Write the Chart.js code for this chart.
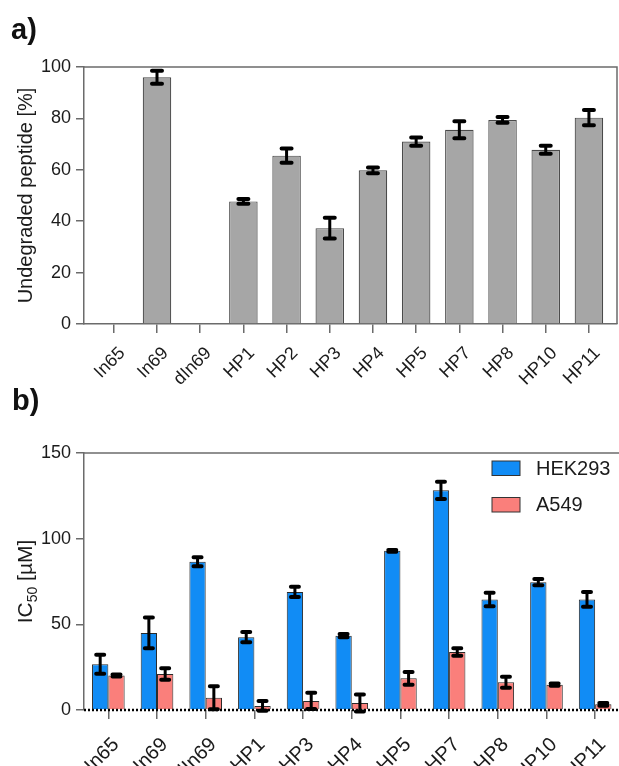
<!DOCTYPE html>
<html>
<head>
<meta charset="utf-8">
<script src="https://cdn.jsdelivr.net/npm/chart.js@4.4.1/dist/chart.umd.min.js"></script>
<style>
  body { margin: 0; background: #fff; width: 619px; height: 766px; position: relative; overflow: hidden; font-family: 'Liberation Sans', Arial, sans-serif; }
  .panel { position: absolute; left: 0; width: 619px; }
  .tag { position: absolute; font-weight: bold; font-size: 29px; color: #111; line-height: 1; z-index: 2; }
</style>
</head>
<body>
<div class="panel" style="top:0; height:395px"><canvas id="degradChart"></canvas></div>
<div class="panel" style="top:370px; height:396px"><canvas id="icChart"></canvas></div>
<div class="tag" style="left:11px; top:15px">a)</div>
<div class="tag" style="left:12px; top:386px">b)</div>
<script>
// a) peptido sin degradar
const peptidesA = ['In65', 'In69', 'dIn69', 'HP1', 'HP2', 'HP3', 'HP4', 'HP5', 'HP7', 'HP8', 'HP10', 'HP11'];
const undegraded = [null, 96, null, 47.7, 65.5, 37.3, 59.8, 71, 75.6, 79.4, 67.8, 80.3];
const undegradedErr = [null, 2.5, null, 0.9, 2.8, 4, 1.1, 1.6, 3.3, 1.1, 1.6, 3];
const ticksA = [0, 20, 40, 60, 80, 100];

// b) IC50
const peptidesB = ['In65', 'In69', 'dIn69', 'HP1', 'HP3', 'HP4', 'HP5', 'HP7', 'HP8', 'HP10', 'HP11'];
const hek293 = [26.7, 45, 86.5, 42.5, 68.9, 43.4, 92.9, 128.2, 64.5, 74.6, 64.5];
const hek293Err = [5.6, 9, 2.6, 3, 3, 1, 0.5, 5, 4, 1.8, 4.3];
const a549 = [20.1, 21, 7.2, 2.4, 5.3, 4.1, 18.5, 33.9, 16.2, 14.8, 3.3];
const a549Err = [0.6, 3.3, 6.7, 2.8, 4.7, 5, 3.7, 2.2, 3.2, 0.7, 0.8];
const ticksB = [0, 50, 100, 150];

const FONT = "'Liberation Sans', Arial, sans-serif";
const AXIS = '#6b6b6b';
const TEXT = '#1b1b1b';

const errorBars = {
    id: 'errorBars',
    afterDatasetsDraw(chart, args, opts) {
        const ctx = chart.ctx;
        const yScale = chart.scales.y;
        chart.data.datasets.forEach((ds, d) => {
            const meta = chart.getDatasetMeta(d);
            meta.data.forEach((bar, i) => {
                const v = ds.data[i].y;
                const e = ds.errors[i];
                if (v == null || e == null) return;
                const top = yScale.getPixelForValue(v + e);
                const bot = yScale.getPixelForValue(v - e);
                const half = opts.cap / 2;
                ctx.save();
                ctx.strokeStyle = '#000';
                ctx.lineWidth = 3;
                ctx.beginPath();
                ctx.moveTo(bar.x, top);
                ctx.lineTo(bar.x, bot);
                ctx.stroke();
                ctx.lineWidth = 4;
                ctx.lineCap = 'round';
                ctx.beginPath();
                ctx.moveTo(bar.x - half, top);
                ctx.lineTo(bar.x + half, top);
                ctx.moveTo(bar.x - half, bot);
                ctx.lineTo(bar.x + half, bot);
                ctx.stroke();
                ctx.restore();
            });
        });
    }
};

// marco gris arriba / derecha
const frame = {
    id: 'frame',
    beforeDatasetsDraw(chart, args, opts) {
        const ctx = chart.ctx;
        const a = chart.chartArea;
        ctx.save();
        ctx.strokeStyle = AXIS;
        ctx.lineWidth = 1.5;
        ctx.beginPath();
        ctx.moveTo(a.left, a.top);
        ctx.lineTo(a.right, a.top);
        if (opts.right) ctx.lineTo(a.right, a.bottom);
        ctx.stroke();
        ctx.restore();
    }
};

// linea punteada en y = 0
const zeroLine = {
    id: 'zeroLine',
    afterDatasetsDraw(chart) {
        const ctx = chart.ctx;
        const a = chart.chartArea;
        const y0 = chart.scales.y.getPixelForValue(0);
        ctx.save();
        ctx.strokeStyle = '#000';
        ctx.lineWidth = 2.5;
        ctx.setLineDash([2, 2]);
        ctx.beginPath();
        ctx.moveTo(a.left, y0);
        ctx.lineTo(a.right, y0);
        ctx.stroke();
        ctx.restore();
    }
};

// etiquetas inclinadas del eje x
const slantLabels = {
    id: 'slantLabels',
    afterDraw(chart, args, opts) {
        const ctx = chart.ctx;
        const xs = chart.scales.x;
        const y0 = chart.chartArea.bottom;
        ctx.save();
        ctx.font = opts.size + 'px ' + FONT;
        ctx.fillStyle = TEXT;
        ctx.textAlign = 'right';
        ctx.textBaseline = 'alphabetic';
        opts.labels.forEach((lab, i) => {
            ctx.save();
            ctx.translate(xs.getPixelForValue(i) + opts.dx, y0 + opts.dy);
            ctx.rotate(-Math.PI / 4);
            ctx.fillText(lab, 0, 0);
            ctx.restore();
        });
        ctx.restore();
    }
};

const boxLegend = {
    id: 'boxLegend',
    afterDraw(chart) {
        const ctx = chart.ctx;
        const a = chart.chartArea;
        ctx.save();
        chart.data.datasets.forEach((ds, i) => {
            const x = a.right - 127;
            const y = a.top + 8 + i * 36.5;
            ctx.fillStyle = ds.backgroundColor;
            ctx.strokeStyle = '#333';
            ctx.lineWidth = 1;
            ctx.fillRect(x, y, 28, 14.5);
            ctx.strokeRect(x, y, 28, 14.5);
            ctx.fillStyle = TEXT;
            ctx.font = '20px ' + FONT;
            ctx.textBaseline = 'middle';
            ctx.fillText(ds.label, x + 44, y + 8);
        });
        ctx.restore();
    }
};

// titulo del eje con subindice
const icTitle = {
    id: 'icTitle',
    afterDraw(chart) {
        const ctx = chart.ctx;
        const a = chart.chartArea;
        const big = '21px ' + FONT;
        const small = '14px ' + FONT;
        ctx.save();
        ctx.font = big;
        const w1 = ctx.measureText('IC').width;
        const w3 = ctx.measureText(' [\u00b5M]').width;
        ctx.font = small;
        const w2 = ctx.measureText('50').width;
        const total = w1 + w2 + w3;
        ctx.translate(32, (a.top + a.bottom) / 2);
        ctx.rotate(-Math.PI / 2);
        ctx.fillStyle = TEXT;
        ctx.textBaseline = 'alphabetic';
        let x = -total / 2;
        ctx.font = big;
        ctx.fillText('IC', x, 0);
        x += w1;
        ctx.font = small;
        ctx.fillText('50', x, 5);
        x += w2;
        ctx.font = big;
        ctx.fillText(' [\u00b5M]', x, 0);
        ctx.restore();
    }
};

function xAxis(labels, min, max, height, showBorder) {
    return {
        type: 'linear',
        min: min,
        max: max,
        offset: false,
        afterBuildTicks: s => { s.ticks = labels.map((c, i) => ({ value: i })); },
        afterFit: s => { s.height = height; },
        ticks: { display: false },
        grid: { offset: false, drawOnChartArea: false, tickLength: 9, color: AXIS, lineWidth: 1.5 },
        border: { display: showBorder, color: AXIS, width: 1.5 }
    };
}

function yAxis(tickValues, title) {
    return {
        min: tickValues[0],
        max: tickValues[tickValues.length - 1],
        afterBuildTicks: s => { s.ticks = tickValues.map(v => ({ value: v })); },
        afterFit: s => { s.width = 84; },
        ticks: { padding: 5, color: TEXT, font: { family: FONT, size: 18 } },
        grid: { drawOnChartArea: false, tickLength: 8, color: AXIS, lineWidth: 1.5 },
        border: { color: AXIS, width: 1.5 },
        title: title ? { display: true, text: title, color: TEXT, font: { family: FONT, size: 20 }, padding: { top: 14 } } : { display: false }
    };
}

document.addEventListener('DOMContentLoaded', function() {
    Chart.defaults.animation = false;

    new Chart(document.getElementById('degradChart').getContext('2d'), {
        type: 'bar',
        data: {
            datasets: [{
                label: 'Undegraded peptide',
                data: undegraded.map((v, i) => ({ x: i, y: v })),
                errors: undegradedErr,
                backgroundColor: '#a6a6a6',
                borderColor: '#4a4a4a',
                borderWidth: 1.2,
                categoryPercentage: 0.66,
                barPercentage: 1
            }]
        },
        options: {
            responsive: true,
            maintainAspectRatio: false,
            layout: { padding: { top: 67, right: 2, left: 0, bottom: 0 } },
            plugins: {
                legend: { display: false },
                tooltip: { enabled: false },
                errorBars: { cap: 10 },
                frame: { right: true },
                slantLabels: { labels: peptidesA, size: 18, dx: 12, dy: 30 }
            },
            scales: {
                x: xAxis(peptidesA, -0.69, 11.65, 71, true),
                y: yAxis(ticksA, 'Undegraded peptide [%]')
            }
        },
        plugins: [frame, errorBars, slantLabels]
    });

    new Chart(document.getElementById('icChart').getContext('2d'), {
        type: 'bar',
        data: {
            datasets: [{
                label: 'HEK293',
                data: hek293.map((v, i) => ({ x: i, y: v })),
                errors: hek293Err,
                backgroundColor: '#118cf5',
                borderColor: '#2a2a2a',
                borderWidth: 1,
                categoryPercentage: 0.67,
                barPercentage: 1
            }, {
                label: 'A549',
                data: a549.map((v, i) => ({ x: i, y: v })),
                errors: a549Err,
                backgroundColor: '#fa7f7b',
                borderColor: '#2a2a2a',
                borderWidth: 1,
                categoryPercentage: 0.67,
                barPercentage: 1
            }]
        },
        options: {
            responsive: true,
            maintainAspectRatio: false,
            layout: { padding: { top: 83, right: 0, left: 0, bottom: 0 } },
            plugins: {
                legend: { display: false },
                tooltip: { enabled: false },
                errorBars: { cap: 8 },
                frame: { right: false },
                slantLabels: { labels: peptidesB, size: 20, dx: 11.5, dy: 35.5 }
            },
            scales: {
                x: xAxis(peptidesB, -0.5, 10.49, 56, false),
                y: yAxis(ticksB, null)
            }
        },
        plugins: [frame, zeroLine, errorBars, boxLegend, icTitle, slantLabels]
    });
});
</script>
</body>
</html>
